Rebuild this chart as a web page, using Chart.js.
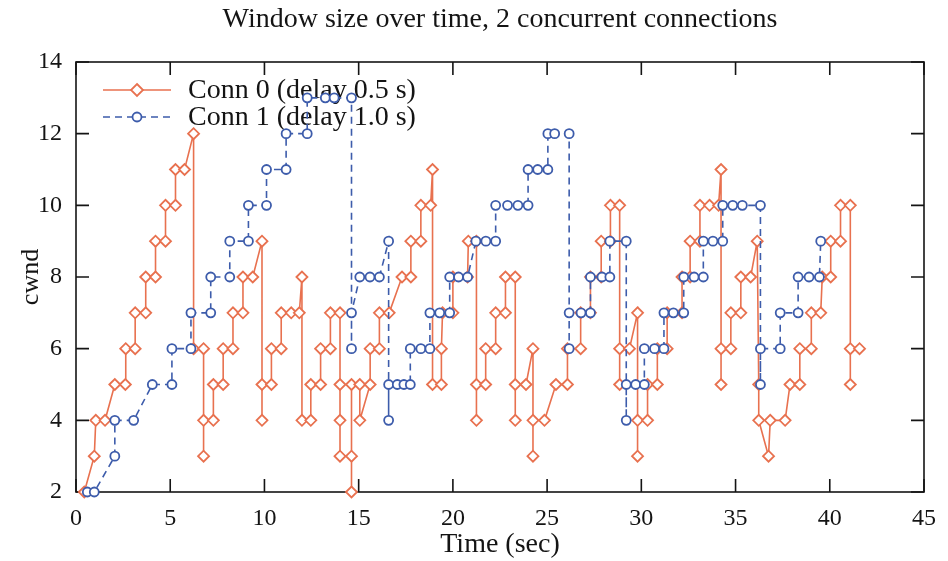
<!DOCTYPE html>
<html>
<head>
<meta charset="utf-8">
<title>Window size over time</title>
<script src="https://cdn.jsdelivr.net/npm/chart.js@4.4.0/dist/chart.umd.min.js"></script>
<style>
  body { margin: 0; background: #fff; }
</style>
</head>
<body>
<canvas id="cwnd" width="948" height="561"></canvas>
<script>
// congestion window trace, [time (s), cwnd] in the order they were logged
const conn0 = [
  [0.44,2],[0.97,3],[1.05,4],[1.54,4],[2.06,5],[2.62,5],[2.64,6],[3.14,6],[3.14,7],[3.70,7],
  [3.70,8],[4.22,8],[4.22,9],[4.75,9],[4.75,10],[5.28,10],[5.28,11],[5.76,11],[6.24,12],[6.24,6],
  [6.77,6],[6.77,3],[6.77,4],[7.29,4],[7.29,5],[7.81,5],[7.81,6],[8.33,6],[8.33,7],[8.86,7],
  [8.86,8],[9.38,8],[9.87,9],[9.87,4],[9.87,5],[10.37,5],[10.37,6],[10.89,6],[10.89,7],[11.42,7],
  [11.85,7],[11.99,8],[11.99,4],[12.46,4],[12.46,5],[12.98,5],[12.98,6],[13.50,6],[13.50,7],[14.01,7],
  [14.01,5],[14.01,4],[14.01,3],[14.62,3],[14.62,2],[14.62,5],[15.06,5],[15.06,4],[15.61,5],[15.61,6],
  [16.10,6],[16.10,7],[16.62,7],[17.30,8],[17.77,8],[17.77,9],[18.30,9],[18.30,10],[18.82,10],[18.92,11],
  [18.92,5],[19.39,5],[19.39,6],[19.45,7],[20.00,7],[20.00,8],[20.78,8],[20.82,9],[21.25,9],[21.25,4],
  [21.25,5],[21.74,5],[21.74,6],[22.27,6],[22.27,7],[22.79,7],[22.79,8],[23.31,8],[23.31,4],[23.31,5],
  [23.88,5],[24.25,6],[24.25,3],[24.25,4],[24.86,4],[25.47,5],[26.08,5],[26.08,6],[26.78,6],[26.78,7],
  [27.30,7],[27.30,8],[27.87,8],[27.87,9],[28.36,9],[28.36,10],[28.85,10],[28.85,5],[28.85,6],[29.37,6],
  [29.80,7],[29.80,3],[29.80,4],[30.33,4],[30.33,5],[30.85,5],[30.85,6],[31.37,6],[31.37,7],[32.16,7],
  [32.16,8],[32.59,8],[32.59,9],[33.11,9],[33.11,10],[33.62,10],[34.10,10],[34.23,11],[34.23,5],[34.23,6],
  [34.75,6],[34.75,7],[35.28,7],[35.28,8],[35.80,8],[36.15,9],[36.23,5],[36.23,4],[36.75,3],[36.84,4],
  [37.63,4],[37.89,5],[38.41,5],[38.41,6],[39.02,6],[39.02,7],[39.52,7],[39.60,8],[40.05,8],[40.05,9],
  [40.57,9],[40.57,10],[41.09,10],[41.09,5],[41.09,6],[41.58,6]
];
const conn1 = [
  [0.60,2],[0.97,2],[2.06,3],[2.06,4],[3.06,4],[4.05,5],[5.09,5],[5.09,6],[6.10,6],[6.10,7],
  [7.15,7],[7.15,8],[8.16,8],[8.16,9],[9.15,9],[9.15,10],[10.11,10],[10.11,11],[11.15,11],[11.15,12],
  [12.27,12],[12.27,13],[13.23,13],[13.70,13],[14.62,13],[14.62,6],[14.62,7],[15.06,8],[15.60,8],[16.10,8],
  [16.59,9],[16.59,4],[16.59,5],[17.05,5],[17.40,5],[17.74,5],[17.74,6],[18.30,6],[18.78,6],[18.78,7],
  [19.30,7],[19.83,7],[19.83,8],[20.30,8],[20.78,8],[21.22,9],[21.75,9],[22.27,9],[22.27,10],[22.90,10],
  [23.45,10],[23.99,10],[23.99,11],[24.50,11],[25.04,11],[25.04,12],[25.40,12],[26.17,12],[26.17,6],[26.17,7],
  [26.80,7],[27.30,7],[27.30,8],[27.91,8],[28.33,8],[28.33,9],[29.20,9],[29.20,4],[29.20,5],[29.70,5],
  [30.16,5],[30.16,6],[30.70,6],[31.20,6],[31.20,7],[31.70,7],[32.25,7],[32.25,8],[32.80,8],[33.29,8],
  [33.29,9],[33.80,9],[34.32,9],[34.32,10],[34.85,10],[35.36,10],[36.32,10],[36.32,5],[36.32,6],[37.37,6],
  [37.37,7],[38.32,7],[38.32,8],[38.90,8],[39.45,8],[39.52,9]
];
const xTicks = [0, 5, 10, 15, 20, 25, 30, 35, 40, 45];
const yTicks = [2, 4, 6, 8, 10, 12, 14];
const seriesNames = ['Conn 0 (delay 0.5 s)', 'Conn 1 (delay 1.0 s)'];
const chartTitle = 'Window size over time, 2 concurrent connections';

const orange = '#e8714f';
const blue = '#3d5cab';
const ink = '#141414';
const serif = "'Liberation Serif', 'Times New Roman', serif";

const toPoints = rows => rows.map(([t, w]) => ({ x: t, y: w }));

function marker(ctx, style, color, x, y) {
  ctx.save();
  ctx.strokeStyle = color;
  ctx.fillStyle = '#fff';
  ctx.lineWidth = 1.8;
  ctx.setLineDash([]);
  ctx.beginPath();
  if (style === 'diamond') {
    const r = 6;
    ctx.moveTo(x, y - r); ctx.lineTo(x + r, y); ctx.lineTo(x, y + r); ctx.lineTo(x - r, y);
    ctx.closePath();
  } else {
    ctx.arc(x, y, 4.5, 0, Math.PI * 2);
  }
  ctx.fill();
  ctx.stroke();
  ctx.restore();
}

// box, inward tick marks on all four sides, title and legend
const decor = {
  id: 'decor',
  beforeDatasetsDraw(chart) {
    const { ctx, chartArea: a, scales: { x, y } } = chart;
    const tick = 13;
    ctx.save();
    ctx.strokeStyle = ink;
    ctx.lineWidth = 1.6;
    ctx.strokeRect(a.left, a.top, a.right - a.left, a.bottom - a.top);
    ctx.beginPath();
    xTicks.forEach(v => {
      const px = x.getPixelForValue(v);
      ctx.moveTo(px, a.bottom); ctx.lineTo(px, a.bottom - tick);
      ctx.moveTo(px, a.top); ctx.lineTo(px, a.top + tick);
    });
    yTicks.forEach(v => {
      const py = y.getPixelForValue(v);
      ctx.moveTo(a.left, py); ctx.lineTo(a.left + tick, py);
      ctx.moveTo(a.right, py); ctx.lineTo(a.right - tick, py);
    });
    ctx.stroke();

    ctx.fillStyle = ink;
    ctx.font = '28px ' + serif;
    ctx.textAlign = 'center';
    ctx.textBaseline = 'middle';
    ctx.fillText(chartTitle, (a.left + a.right) / 2, 20);

    // legend: line sample with marker, then label
    const rows = [
      { color: orange, dash: [], style: 'diamond' },
      { color: blue, dash: [7, 5], style: 'circle' }
    ];
    ctx.font = '28px ' + serif;
    ctx.textAlign = 'left';
    rows.forEach((r, i) => {
      const ly = 90 + i * 27;
      ctx.save();
      ctx.strokeStyle = r.color;
      ctx.lineWidth = 1.6;
      ctx.setLineDash(r.dash);
      ctx.beginPath();
      ctx.moveTo(103, ly); ctx.lineTo(171, ly);
      ctx.stroke();
      ctx.restore();
      marker(ctx, r.style, r.color, 137, ly);
      ctx.fillStyle = ink;
      ctx.fillText(seriesNames[i], 188, ly + 1);
    });
    ctx.restore();
  }
};

new Chart(document.getElementById('cwnd'), {
  type: 'scatter',
  data: {
    datasets: [
      {
        label: seriesNames[0],
        data: toPoints(conn0),
        showLine: true,
        borderColor: orange,
        borderWidth: 1.6,
        pointStyle: 'rectRot',
        pointRadius: 5.5,
        pointBorderWidth: 1.8,
        pointBorderColor: orange,
        pointBackgroundColor: '#fff',
        clip: false,
        order: 1
      },
      {
        label: seriesNames[1],
        data: toPoints(conn1),
        showLine: true,
        borderColor: blue,
        borderWidth: 1.6,
        borderDash: [7, 5],
        pointStyle: 'circle',
        pointRadius: 4.5,
        pointBorderWidth: 1.8,
        pointBorderColor: blue,
        pointBackgroundColor: '#fff',
        clip: false,
        order: 0
      }
    ]
  },
  options: {
    responsive: false,
    animation: false,
    layout: { padding: { top: 62, right: 14, left: 0, bottom: 0 } },
    plugins: {
      legend: { display: false },
      tooltip: { enabled: false },
      title: { display: false }
    },
    scales: {
      x: {
        type: 'linear',
        min: 0,
        max: 45,
        afterBuildTicks: s => { s.ticks = xTicks.map(v => ({ value: v })); },
        afterFit: s => { s.height = 69; },
        ticks: { color: ink, font: { family: serif, size: 24 }, padding: 12, maxRotation: 0 },
        grid: { display: false, drawTicks: false },
        border: { display: false },
        title: { display: true, text: 'Time (sec)', color: ink, font: { family: serif, size: 28 }, padding: { top: 0, bottom: 0 } }
      },
      y: {
        type: 'linear',
        min: 2,
        max: 14,
        afterBuildTicks: s => { s.ticks = yTicks.map(v => ({ value: v })); },
        afterFit: s => { s.width = 76; },
        ticks: { color: ink, font: { family: serif, size: 24 }, padding: 14 },
        grid: { display: false, drawTicks: false },
        border: { display: false },
        title: { display: true, text: 'cwnd', color: ink, font: { family: serif, size: 26 }, padding: { top: 16, bottom: 0 } }
      }
    }
  },
  plugins: [decor]
});
</script>
</body>
</html>
